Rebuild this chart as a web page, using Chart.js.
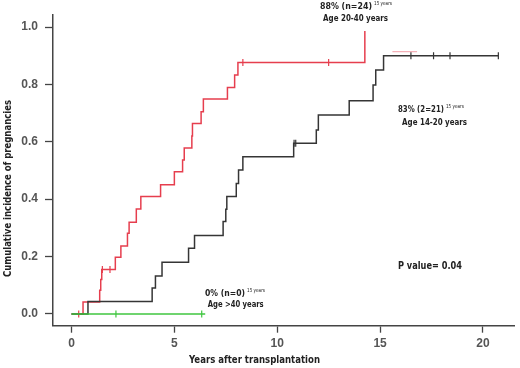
<!DOCTYPE html>
<html>
<head>
<meta charset="utf-8">
<script src="https://cdn.jsdelivr.net/npm/chart.js"></script>
<style>
  html, body { margin: 0; padding: 0; background: #fff; }
  #wrap { width: 520px; height: 368px; position: relative; }
</style>
</head>
<body>
<div id="wrap"><canvas id="chart"></canvas></div>
<script>
// cumulative incidence (years, proportion)
const redTimes   = [0, 0.56, 1.37, 1.42, 1.47, 2.13, 2.4, 2.72, 2.8, 3.15, 3.37, 4.33, 5.0, 5.4, 5.48, 5.85, 5.88, 6.3, 6.41, 7.58, 7.93, 8.09, 14.26, 14.26];
const redValues  = [0, 0.042, 0.083, 0.12, 0.155, 0.198, 0.237, 0.281, 0.32, 0.366, 0.409, 0.45, 0.496, 0.537, 0.578, 0.62, 0.664, 0.705, 0.749, 0.789, 0.833, 0.876, 0.876, 0.986];
const blackTimes  = [0, 0.8, 3.92, 4.08, 4.4, 5.69, 5.98, 7.37, 7.5, 7.55, 8.01, 8.12, 8.33, 10.8, 11.9, 12.0, 13.5, 14.66, 14.79, 15.17, 20.75];
const blackValues = [0, 0.043, 0.09, 0.132, 0.18, 0.229, 0.273, 0.322, 0.365, 0.409, 0.455, 0.502, 0.548, 0.595, 0.641, 0.693, 0.743, 0.798, 0.85, 0.9, 0.9];
const greenTimes  = [0, 6.5];
const greenValues = [0, 0];
const fadedTimes  = [15.6, 16.8];
const fadedValues = [0.914, 0.914];

// censoring marks
const redCensorTimes    = [0.35, 1.5, 1.87, 8.33, 12.5];
const redCensorValues   = [0, 0.155, 0.155, 0.876, 0.876];
const blackCensorTimes  = [10.82, 10.9, 16.5, 17.6, 18.4, 20.75];
const blackCensorValues = [0.595, 0.595, 0.9, 0.9, 0.9, 0.9];
const greenCensorTimes  = [2.16, 6.33];
const greenCensorValues = [0, 0];

const xTicks = [0, 5, 10, 15, 20];
const yTicks = [0, 0.2, 0.4, 0.6, 0.8, 1.0];

const RED = '#e63e4e';
const BLACK = '#353535';
const GREEN = '#3fc63f';
const AXIS = '#444';

function pts(xs, ys) {
    return xs.map((x, i) => ({ x: x, y: ys[i] }));
}

function stepLine(xs, ys, color, width) {
    return {
        type: 'line',
        data: pts(xs, ys),
        borderColor: color,
        borderWidth: width || 1.5,
        stepped: true,
        pointRadius: 0,
        fill: false
    };
}

function censor(xs, ys, color) {
    return {
        type: 'scatter',
        data: pts(xs, ys),
        showLine: false,
        pointStyle: 'line',
        rotation: 90,
        radius: 3.5,
        borderWidth: 1.2,
        borderColor: color,
        backgroundColor: color
    };
}

// annotation text drawn in data coordinates, w = width it takes in the figure
const notes = [
    { t: 12.08, v: 1.073, text: '88% (n=24)', w: 52, sup: '15 years' },
    { t: 12.23, v: 1.030, text: 'Age 20-40 years', w: 65 },
    { t: 15.87, v: 0.711, text: '83% (2=21)', w: 46, sup: '15 years' },
    { t: 16.07, v: 0.667, text: 'Age 14-20 years', w: 65 },
    { t: 15.87, v: 0.165, text: 'P value= 0.04', w: 64, size: 10.5 },
    { t: 6.49, v: 0.072, text: '0% (n=0)', w: 40, sup: '15 years' },
    { t: 6.62, v: 0.034, text: 'Age >40 years', w: 56 }
];

const FONT = '"DejaVu Sans Condensed", "Liberation Sans", sans-serif';

// draws text squeezed horizontally to a given width
function fitText(ctx, text, x, y, width) {
    const m = ctx.measureText(text).width;
    const k = Math.min(1, width / m);
    ctx.save();
    ctx.translate(x, y);
    ctx.scale(k, 1);
    ctx.fillText(text, 0, 0);
    ctx.restore();
    return m * k;
}

const textPlugin = {
    id: 'texts',
    afterDraw(chart) {
        const ctx = chart.ctx;
        const xs = chart.scales.x, ys = chart.scales.y;
        ctx.save();
        ctx.fillStyle = '#222';
        ctx.textBaseline = 'middle';
        ctx.textAlign = 'left';
        notes.forEach(n => {
            const px = xs.getPixelForValue(n.t);
            const py = ys.getPixelForValue(n.v);
            ctx.font = 'bold ' + (n.size || 9.5) + 'px ' + FONT;
            const w = fitText(ctx, n.text, px, py, n.w);
            if (n.sup) {
                ctx.font = '5.5px ' + FONT;
                fitText(ctx, n.sup, px + w + 2, py - 3, 18);
            }
        });

        // axis titles
        ctx.font = 'bold 10px ' + FONT;
        ctx.textAlign = 'center';
        fitText(ctx, 'Years after transplantation', 254.5, 360, 131);
        ctx.translate(8, 188.5);
        ctx.rotate(-Math.PI / 2);
        fitText(ctx, 'Cumulative incidence of pregnancies', 0, 0, 177);
        ctx.restore();
    }
};

new Chart(document.getElementById('chart'), {
    data: {
        datasets: [
            stepLine(greenTimes, greenValues, GREEN),
            stepLine(blackTimes, blackValues, BLACK),
            stepLine(redTimes, redValues, RED),
            stepLine(fadedTimes, fadedValues, 'rgba(232,80,95,0.45)', 1.2),
            censor(greenCensorTimes, greenCensorValues, GREEN),
            censor(blackCensorTimes, blackCensorValues, BLACK),
            censor(redCensorTimes, redCensorValues, RED)
        ]
    },
    options: {
        responsive: true,
        maintainAspectRatio: false,
        animation: false,
        layout: { padding: { top: 15, right: 0, left: 0, bottom: 0 } },
        plugins: {
            legend: { display: false },
            tooltip: { enabled: false }
        },
        scales: {
            x: {
                type: 'linear',
                min: -0.9,
                max: 21.55,
                afterBuildTicks: s => { s.ticks = xTicks.map(v => ({ value: v })); },
                afterFit: s => { s.height = 42.3; },
                grid: { drawOnChartArea: false, drawTicks: true, tickLength: 7, color: AXIS, tickWidth: 1.3 },
                border: { display: true, color: AXIS, width: 1.5 },
                ticks: { padding: 4, color: '#555', font: { size: 12, weight: 'bold', family: '"Liberation Sans", Arial, sans-serif' } }
            },
            y: {
                type: 'linear',
                min: -0.041,
                max: 1.042,
                afterBuildTicks: s => { s.ticks = yTicks.map(v => ({ value: v })); },
                afterFit: s => { s.width = 53; },
                grid: { drawOnChartArea: false, drawTicks: true, tickLength: 8, color: AXIS, tickWidth: 1.3 },
                border: { display: true, color: AXIS, width: 1.5 },
                ticks: {
                    padding: 7,
                    color: '#555',
                    font: { size: 12, weight: 'bold', family: '"Liberation Sans", Arial, sans-serif' },
                    callback: v => v.toFixed(1)
                }
            }
        }
    },
    plugins: [textPlugin]
});
</script>
</body>
</html>
